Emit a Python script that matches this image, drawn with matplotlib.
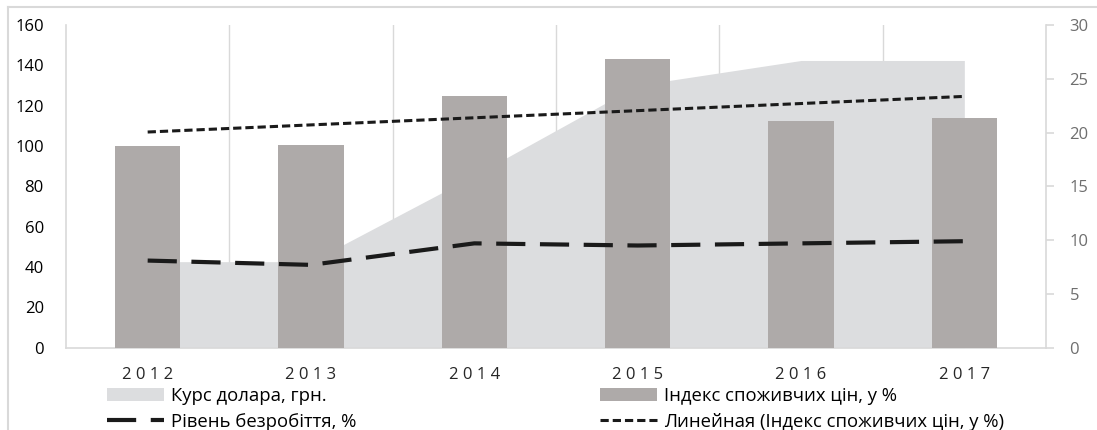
import numpy as np
import matplotlib.pyplot as plt
from matplotlib.lines import Line2D
from matplotlib.patches import Patch

plt.rcParams['font.family'] = ['Open Sans', 'DejaVu Sans']

years = ['2012', '2013', '2014', '2015', '2016', '2017']
cpi = [99.8, 100.5, 124.9, 143.3, 112.4, 113.7]          # Індекс споживчих цін, %
usd_rate = [8.0, 8.0, 16.0, 24.4, 26.7, 26.7]            # Курс долара, грн.
unemployment = [8.1, 7.7, 9.7, 9.5, 9.7, 9.9]            # Рівень безробіття, %

bar_color = '#aeaaa9'
area_color = '#dcdddf'
grid_color = '#d9d9d9'
line_color = '#1a1a1a'

x = np.arange(len(years))
# linear trendline of the CPI series
trend = np.polyval(np.polyfit(x, cpi, 1), x)

fig = plt.figure(figsize=(10.97, 4.30), dpi=100)

# outer chart border (top and left are visible)
fig.add_artist(Line2D([8 / 1097, 1], [1 - 7 / 430, 1 - 7 / 430], color=grid_color, lw=1.5))
fig.add_artist(Line2D([8 / 1097, 8 / 1097], [0, 1 - 7 / 430], color=grid_color, lw=1.5))

pos = [66 / 1097, 1 - 347.7 / 430, (1046 - 66) / 1097, (347.7 - 25) / 430]

# base axes: gridlines + area (right scale)
ax = fig.add_axes(pos)
ax.fill_between(x, usd_rate, 0, color=area_color, lw=0)
ax.set_xlim(-0.5, 5.5)
ax.set_ylim(0, 30)
for b in np.arange(0.5, 5.0, 1.0):
    ax.axvline(b, color=grid_color, lw=1, zorder=0)
ax.spines['top'].set_visible(False)
for s in ['left', 'right', 'bottom']:
    ax.spines[s].set_color(grid_color)
    ax.spines[s].set_linewidth(1.2)
ax.set_yticks([])
ax.set_xticks(x)
ax.set_xticklabels([' '.join(y) for y in years], fontsize=12, color='#262626')
ax.tick_params(axis='x', length=0, pad=14)

# bars + trendline (left scale)
ax_bar = ax.twinx()
ax_bar.bar(x, cpi, width=0.4, color=bar_color, zorder=2)
ax_bar.plot(x, trend, color=line_color, lw=2.2, dashes=(2.7, 1.3), zorder=3)
ax_bar.set_ylim(0, 160)
ax_bar.set_yticks(np.arange(0, 161, 20))
ax_bar.yaxis.tick_left()
ax_bar.tick_params(axis='y', length=0, pad=16, labelsize=12, labelcolor='#000000')
ax_bar.patch.set_visible(False)
for s in ax_bar.spines.values():
    s.set_visible(False)

# unemployment (right scale)
ax_line = ax.twinx()
ax_line.plot(x, unemployment, color=line_color, lw=3.0, dashes=(7, 3.5))
ax_line.set_ylim(0, 30)
ax_line.set_yticks(np.arange(0, 31, 5))
ax_line.tick_params(axis='y', length=6, width=1.2, color=grid_color, pad=11,
                    labelsize=12, labelcolor='#6e6e6e')
ax_line.patch.set_visible(False)
for s in ax_line.spines.values():
    s.set_visible(False)

# legend in two columns
h_area = Patch(facecolor=area_color, edgecolor='none')
h_bar = Patch(facecolor=bar_color, edgecolor='none')
h_unemp = Line2D([], [], color=line_color, lw=3.0, dashes=(7, 3.5))
h_trend = Line2D([], [], color=line_color, lw=2.2, dashes=(2.7, 1.3))

kw = dict(frameon=False, fontsize=13.3, handlelength=3.1, handleheight=0.65,
          handletextpad=0.38, labelspacing=0.42, borderaxespad=0, borderpad=0,
          loc='upper left')
fig.legend([h_area, h_unemp], ['Курс долара, грн.', 'Рівень безробіття, %'],
           bbox_to_anchor=(107 / 1097, 1 - 387 / 430), **kw)
fig.legend([h_bar, h_trend], ['Індекс споживчих цін, у %', 'Линейная (Індекс споживчих цін, у %)'],
           bbox_to_anchor=(600 / 1097, 1 - 387 / 430), **kw)

fig.savefig('out.png', dpi=100)
